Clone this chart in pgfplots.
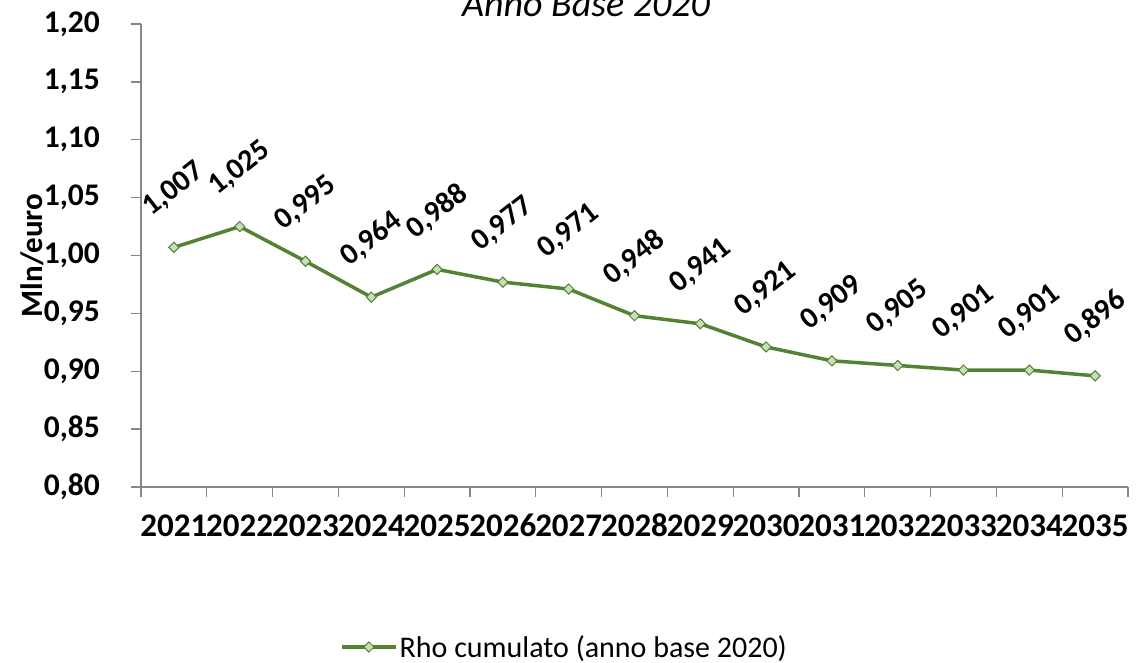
\documentclass[border=0pt]{standalone}
\usepackage{pgfplots}
\pgfplotsset{compat=1.18}
\usepackage{fontspec}
\setmainfont{Carlito}
\definecolor{linegreen}{HTML}{548235}
\definecolor{markfill}{HTML}{C5E0B4}
\definecolor{axisgray}{HTML}{868686}
\newcommand\fs[1]{\fontsize{#1}{#1}\selectfont}
\pgfplotstableread{
x y
1 1.007
2 1.025
3 0.995
4 0.964
5 0.988
6 0.977
7 0.971
8 0.948
9 0.941
10 0.921
11 0.909
12 0.905
13 0.901
14 0.901
15 0.896
}\rhodata
\begin{document}
\begin{tikzpicture}[x=1pt,y=1pt]
\begin{axis}[
  at={(141pt,176pt)}, anchor=south west,
  scale only axis, width=987pt, height=463pt,
  xmin=0.5, xmax=15.5, ymin=0.8, ymax=1.2,
  axis x line*=bottom, axis y line*=left,
  axis line style={draw=axisgray, line width=1.3pt},
  tick align=outside,
  major tick length=10pt,
  tick style={draw=axisgray, line width=1.3pt},
  ytick={0.80,0.85,0.90,0.95,1.00,1.05,1.10,1.15,1.20},
  xtick={0.5,1.5,2.5,3.5,4.5,5.5,6.5,7.5,8.5,9.5,10.5,11.5,12.5,13.5,14.5,15.5},
  xticklabels={},
  extra x ticks={1,2,3,4,5,6,7,8,9,10,11,12,13,14,15},
  extra x tick labels={2021,2022,2023,2024,2025,2026,2027,2028,2029,2030,2031,2032,2033,2034,2035},
  extra x tick style={major tick length=0pt},
  /pgf/number format/assume math mode=true,
  yticklabel style={font=\fs{31.5}\bfseries, anchor=east, inner sep=0pt, xshift=-31pt,
    /pgf/number format/.cd, fixed, fixed zerofill, precision=2, use comma},
  xticklabel style={font=\fs{33}\bfseries, anchor=base, inner sep=0pt, yshift=-50pt},
  ylabel={Mln/euro},
  ylabel style={font=\fs{31}\bfseries, at={(axis description cs:-0.1003,0.5)}, anchor=base},
  clip=false,
  legend style={at={(axis description cs:0.2016,-0.3456)}, anchor=west, draw=none, inner sep=0pt, font=\fs{30}},
  legend image code/.code={\draw[#1, mark repeat=2, mark phase=2] plot coordinates {(0pt,0pt) (27pt,0pt) (54pt,0pt)};},
]
\addplot[color=linegreen, line width=3.5pt, mark=square*, mark size=3.6pt,
  mark options={rotate=45, fill=markfill, draw=linegreen, line width=1pt},
  nodes near coords={\fs{30}\bfseries\pgfmathprintnumber[fixed, fixed zerofill, precision=3, use comma, assume math mode=true]{\pgfplotspointmeta}},
  point meta=y,
  every node near coord/.append style={text=black, anchor=center, inner sep=0pt, yshift=58pt, rotate=38}
] table[x=x, y=y] {\rhodata};
\addlegendentry{Rho cumulato (anno base 2020)}
\end{axis}
\node[font=\itshape\fs{38}, anchor=base] at (586,646) {Anno Base 2020};
\pgfresetboundingbox
\useasboundingbox (0,0) rectangle (1136,663);
\end{tikzpicture}
\end{document}
